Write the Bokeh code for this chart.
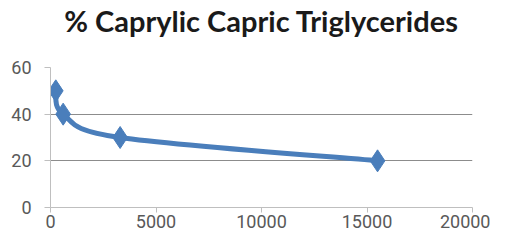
from bokeh.plotting import figure
from bokeh.embed import file_html
from bokeh.resources import INLINE
from bokeh.models import FixedTicker, Range1d, Title

x_vals = [250, 600, 3300, 15500]
y_vals = [50, 40, 30, 20]
x_ticks = [0, 5000, 10000, 15000, 20000]
y_ticks = [0, 20, 40, 60]
title_text = "% Caprylic Capric Triglycerides"

BLUE = "#4A7EBB"
GRID = "#8C8C8C"
LABEL = "#595959"

p = figure(width=490, height=235, output_backend="svg", toolbar_location=None,
           x_range=Range1d(0, 20000), y_range=Range1d(0, 60),
           min_border_left=50, min_border_right=18, min_border_bottom=28, min_border_top=67)
# spacer between the title and the plot area
p.add_layout(Title(text=" ", text_font_size="1px", standoff=23), "above")
p.add_layout(Title(text=title_text, align="center", vertical_align="top", text_font="Lato",
                   text_font_style="bold", text_font_size="29px", text_color="#1a1a1a",
                   standoff=4, offset=-2), "above")
p.outline_line_color = None
p.background_fill_color = "white"
p.border_fill_color = "white"

for ax in (p.xaxis[0], p.yaxis[0]):
    ax.major_label_text_font = "Roboto"
    ax.major_label_text_font_size = "18px"
    ax.major_label_text_color = LABEL
    ax.axis_line_color = "#BFBFBF"
    ax.major_tick_line_color = "#BFBFBF"
    ax.minor_tick_line_color = None
    ax.major_tick_in = 0

p.xaxis.major_tick_out = 5
p.yaxis.major_tick_out = 6
p.xaxis.ticker = FixedTicker(ticks=x_ticks)
p.yaxis.ticker = FixedTicker(ticks=y_ticks)
p.xaxis.major_label_standoff = 2
p.yaxis.major_label_standoff = 13
p.xgrid.grid_line_color = None
p.ygrid.grid_line_color = GRID
p.ygrid.grid_line_width = 1

# smoothed line (Catmull-Rom style bezier through the data points)
n = len(x_vals)
x0, y0, x1, y1, cx0, cy0, cx1, cy1 = [], [], [], [], [], [], [], []
for i in range(n - 1):
    pm = i - 1 if i > 0 else i
    pp = i + 2 if i + 2 < n else i + 1
    x0.append(x_vals[i]); y0.append(y_vals[i])
    x1.append(x_vals[i + 1]); y1.append(y_vals[i + 1])
    cx0.append(x_vals[i] + (x_vals[i + 1] - x_vals[pm]) / 6)
    cy0.append(y_vals[i] + (y_vals[i + 1] - y_vals[pm]) / 6)
    cx1.append(x_vals[i + 1] - (x_vals[pp] - x_vals[i]) / 6)
    cy1.append(y_vals[i + 1] - (y_vals[pp] - y_vals[i]) / 6)
p.bezier(x0=x0, y0=y0, x1=x1, y1=y1, cx0=cx0, cy0=cy0, cx1=cx1, cy1=cy1,
         line_color=BLUE, line_width=5)
p.scatter(x_vals, y_vals, marker="diamond", size=22, fill_color=BLUE, line_color=BLUE)

open("out.html", "w").write(file_html(p, INLINE))
